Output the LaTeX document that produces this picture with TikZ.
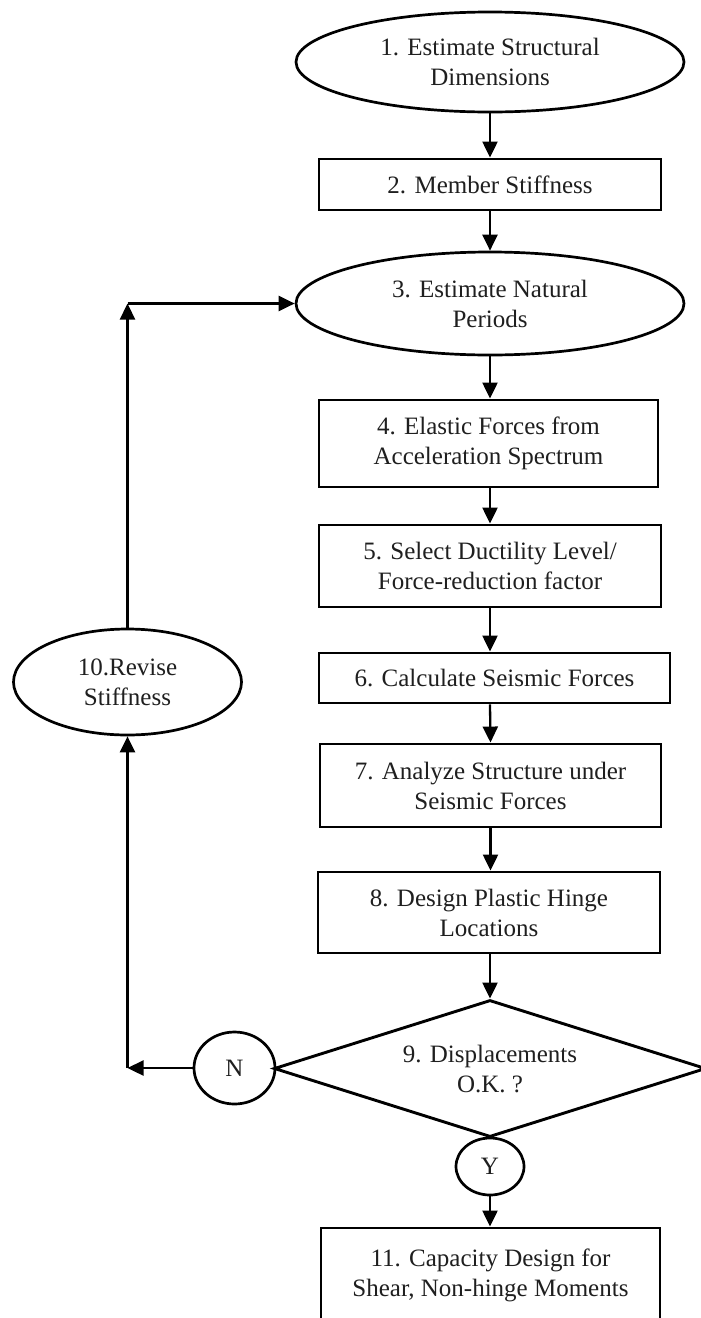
\documentclass[tikz,border=0pt]{standalone}
\usepackage{fontspec}
\setmainfont{Liberation Serif}
\usetikzlibrary{shapes.geometric,arrows.meta}
\definecolor{ink}{gray}{0.12}
\tikzset{
  txt/.style={font=\fontsize{25}{30}\selectfont, text=ink, align=center, inner sep=0pt},
  oval/.style={txt, draw, ellipse, line width=2.7pt},
  stepbox/.style={txt, draw, rectangle, line width=2.9pt},
  decision/.style={txt, draw, diamond, shape aspect=3, line width=2.9pt},
  flow/.style={line width=2.3pt, -{Triangle[length=16pt,width=15pt]}}
}
\begin{document}
\begin{tikzpicture}[x=1pt,y=-1pt]
\useasboundingbox (0,0) rectangle (701,1318);
\clip (0,0) rectangle (701,1318);
\fill[white] (0,0) rectangle (701,1318);

\node[oval, minimum width=388pt, minimum height=100pt] (e1) at (490,62) {1. Estimate Structural\\Dimensions};
\node[stepbox, minimum width=342pt, minimum height=51pt] (b2) at (490,184.5) {2. Member Stiffness};
\node[oval, minimum width=388pt, minimum height=103pt] (e3) at (490,303.5) {3. Estimate Natural\\Periods};
\node[stepbox, minimum width=339pt, minimum height=87pt] (b4) at (488.5,443.5) {4. Elastic Forces from\\Acceleration Spectrum};
\node[stepbox, minimum width=342pt, minimum height=82pt] (b5) at (490,566) {5. Select Ductility Level/\\Force-reduction factor};
\node[stepbox, minimum width=351pt, minimum height=50pt] (b6) at (494.5,678) {6. Calculate Seismic Forces};
\node[stepbox, minimum width=341pt, minimum height=83pt] (b7) at (490.5,785.5) {7. Analyze Structure under\\Seismic Forces};
\node[stepbox, minimum width=342pt, minimum height=81pt] (b8) at (489,912.5) {8. Design Plastic Hinge\\Locations};
\node[decision, minimum width=432pt, minimum height=137pt] (d9) at (490,1068.5) {9. Displacements\\O.K. ?};
\node[oval, minimum width=81pt, minimum height=72pt] (n) at (234.5,1068) {N};
\node[oval, minimum width=68pt, minimum height=57pt] (y) at (490,1166.5) {Y};
\node[stepbox, minimum width=339pt, minimum height=94pt] (b11) at (490.5,1275) {11. Capacity Design for\\Shear, Non-hinge Moments};
\node[oval, minimum width=228pt, minimum height=106pt] (e10) at (127.5,682) {10.Revise\\Stiffness};

\coordinate (c1) at (e10.south |- n.west);
\coordinate (c2) at (e10.north |- e3.west);

\draw[flow] (e1.south) -- (b2.north);
\draw[flow] (b2.south) -- (e3.north);
\draw[flow] (e3.south) -- (e3.south |- b4.north);
\draw[flow] (e3.south |- b4.south) -- (e3.south |- b5.north);
\draw[flow] (b5.south) -- (b5.south |- b6.north);
\draw[flow] (b5.south |- b6.south) -- (b7.north);
\draw[flow] (b7.south) -- (b7.south |- b8.north);
\draw[flow] (d9.north |- b8.south) -- (d9.north);
\draw[flow] (y.south) -- (y.south |- b11.north);
\draw[flow] (n.west) -- (c1);
\draw[flow] (c1) -- (e10.south);
\draw[flow] (e10.north) -- (c2);
\draw[flow] (c2) -- (e3.west);
\end{tikzpicture}
\end{document}
